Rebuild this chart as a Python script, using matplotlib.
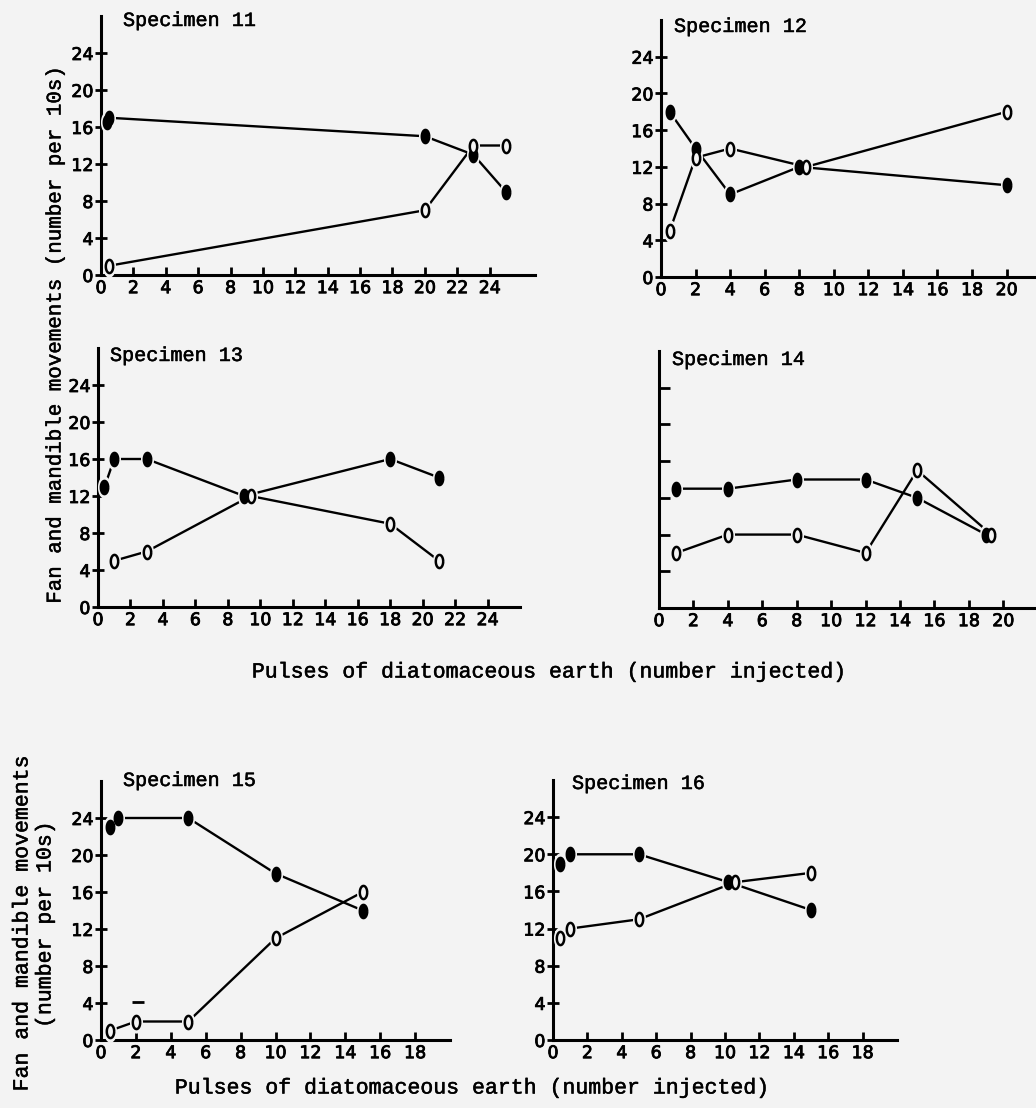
import numpy as np
import matplotlib
matplotlib.use("Agg")
import matplotlib.pyplot as plt
import matplotlib.patheffects as pe
from matplotlib.path import Path

# --- data ---
# Specimen 11
s11_filled_x = [0.4, 0.5, 20, 23, 25]
s11_filled_y = [16.5, 17, 15, 13, 9]
s11_open_x = [0.5, 20, 23, 25]
s11_open_y = [1, 7, 14, 14]

# Specimen 12
s12_filled_x = [0.5, 2, 4, 8, 20]
s12_filled_y = [18, 14, 9, 12, 10]
s12_open_x = [0.5, 2, 4, 8.4, 20]
s12_open_y = [5, 13, 14, 12, 18]

# Specimen 13
s13_filled_x = [0.4, 1, 3, 9, 18, 21]
s13_filled_y = [13, 16, 16, 12, 16, 14]
s13_open_x = [1, 3, 9.4, 18, 21]
s13_open_y = [5, 6, 12, 9, 5]

# Specimen 14
s14_filled_x = [1, 4, 8, 12, 15, 19]
s14_filled_y = [13, 13, 14, 14, 12, 8]
s14_open_x = [1, 4, 8, 12, 15, 19.3]
s14_open_y = [6, 8, 8, 6, 15, 8]

# Specimen 15
s15_filled_x = [0.5, 1, 5, 10, 15]
s15_filled_y = [23, 24, 24, 18, 14]
s15_open_x = [0.5, 2, 5, 10, 15]
s15_open_y = [1, 2, 2, 11, 16]
s15_stray_x = [2.1]
s15_stray_y = [4.1]

# Specimen 16
s16_filled_x = [0.4, 1, 5, 10.2, 15]
s16_filled_y = [19, 20, 20, 17, 14]
s16_open_x = [0.4, 1, 5, 10.6, 15]
s16_open_y = [11, 12, 13, 17, 18]

y_ticks = [0, 4, 8, 12, 16, 20, 24]

W, H = 1036, 1108
BG = "#f3f3f3"
MONO = ["Liberation Mono", "DejaVu Sans Mono"]
TICKSIZE = 12.5
# scanned print is heavier than a clean font, thicken the glyphs a bit
INK = [pe.withStroke(linewidth=0.6, foreground="black")]
INK_MONO = [pe.withStroke(linewidth=0.35, foreground="black")]

# tall rounded marker, like the typed "0" and the filled blob
t = np.linspace(0, 2 * np.pi, 40)
ell = Path(np.column_stack([0.28 * np.cos(t), 0.5 * np.sin(t)]))

plt.rcParams["font.family"] = "DejaVu Sans"
fig = plt.figure(figsize=(W / 100, H / 100), dpi=100, facecolor=BG)


def make_axes(left, bottom, width, height, xmax, xtick_max, title, title_dx, title_top,
              ylabels=True):
    ax = fig.add_axes([left / W, 1 - bottom / H, width / W, height / H])
    ax.set_facecolor("none")
    ax.set_xlim(0, xmax)
    ax.set_ylim(0, 28)
    for s in ["top", "right"]:
        ax.spines[s].set_visible(False)
    for s in ["left", "bottom"]:
        ax.spines[s].set_linewidth(2.2)
    ax.set_xticks(np.arange(0, xtick_max + 1, 2))
    ax.set_yticks(y_ticks)
    if not ylabels:
        ax.set_yticklabels([])
    ax.tick_params(axis="x", direction="in", length=6, width=2, labelsize=TICKSIZE, pad=3)
    ax.tick_params(axis="y", direction="inout", length=9, width=2, labelsize=TICKSIZE, pad=1)
    for lab in ax.get_xticklabels() + ax.get_yticklabels():
        lab.set_path_effects(INK)
    fig.text((left + title_dx) / W, 1 - title_top / H, title, family=MONO,
             fontsize=14.5, ha="left", va="top", path_effects=INK_MONO)
    return ax


def draw_series(ax, x, y, filled):
    ax.plot(x, y, color="black", lw=1.7, zorder=2, clip_on=False)
    ax.plot(x, y, ls="none", marker=ell, ms=15, mfc=BG, mec=BG, zorder=3, clip_on=False)
    ax.plot(x, y, ls="none", marker=ell, ms=9.5,
            mfc="black" if filled else BG, mec="black", mew=1.8, zorder=4, clip_on=False)


ax11 = make_axes(101, 275, 434, 259, 26.8, 24, "Specimen 11", 22, 11)
draw_series(ax11, s11_filled_x, s11_filled_y, True)
draw_series(ax11, s11_open_x, s11_open_y, False)

ax12 = make_axes(661, 277, 375, 257, 21.7, 20, "Specimen 12", 13, 17)
draw_series(ax12, s12_filled_x, s12_filled_y, True)
draw_series(ax12, s12_open_x, s12_open_y, False)

ax13 = make_axes(98, 607, 422, 259, 26, 24, "Specimen 13", 12, 346)
draw_series(ax13, s13_filled_x, s13_filled_y, True)
draw_series(ax13, s13_open_x, s13_open_y, False)

ax14 = make_axes(659, 608, 377, 257, 21.9, 20, "Specimen 14", 13, 350, ylabels=False)
ax14.tick_params(axis="y", direction="in", length=8)
draw_series(ax14, s14_filled_x, s14_filled_y, True)
draw_series(ax14, s14_open_x, s14_open_y, False)

ax15 = make_axes(101, 1040, 349, 259, 20, 18, "Specimen 15", 22, 771)
draw_series(ax15, s15_filled_x, s15_filled_y, True)
draw_series(ax15, s15_open_x, s15_open_y, False)
ax15.plot(s15_stray_x, s15_stray_y, ls="none", marker="_", ms=8, mew=2, color="black")

ax16 = make_axes(553, 1040, 344, 260, 20, 18, "Specimen 16", 19, 774)
draw_series(ax16, s16_filled_x, s16_filled_y, True)
draw_series(ax16, s16_open_x, s16_open_y, False)

# shared labels
label_kw = dict(family=MONO, ha="center", va="center", path_effects=INK_MONO)
fig.text(55 / W, 1 - 335 / H, "Fan and mandible movements (number per 10s)",
         rotation=90, fontsize=15, **label_kw)
fig.text(548 / W, 1 - 672 / H, "Pulses of diatomaceous earth (number injected)",
         fontsize=15.5, **label_kw)
fig.text(22 / W, 1 - 924 / H, "Fan and mandible movements",
         rotation=90, fontsize=15.5, **label_kw)
fig.text(45 / W, 1 - 925 / H, "(number per 10s)",
         rotation=90, fontsize=15.5, **label_kw)
fig.text(471 / W, 1 - 1088 / H, "Pulses of diatomaceous earth (number injected)",
         fontsize=15.5, **label_kw)

fig.savefig("out.png", dpi=100, facecolor=BG)
